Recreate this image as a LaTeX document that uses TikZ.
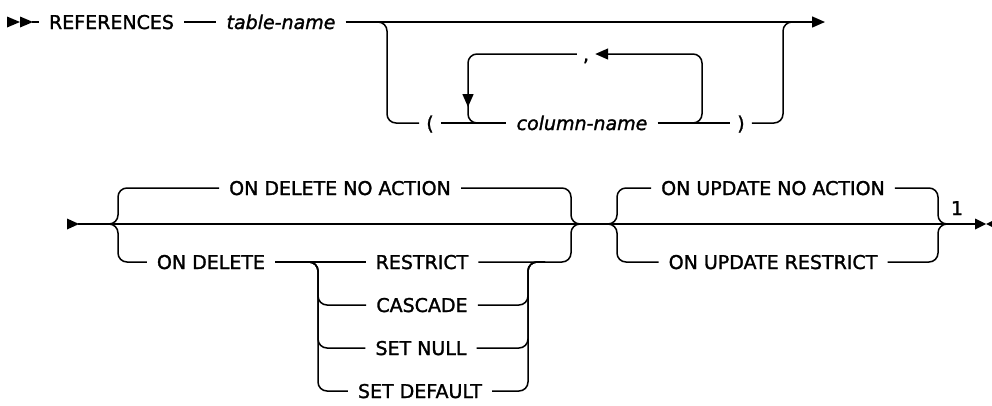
\documentclass[tikz,border=0pt]{standalone}
\usepackage{fontspec}
\setmainfont{DejaVu Sans}
\newfontfamily\railfont{DejaVu Sans}[FakeBold=1.5]
\newfontfamily\railit{DejaVu Sans Oblique}[FakeBold=1.5]
\usetikzlibrary{arrows.meta}
\begin{document}
\begin{tikzpicture}[x=1pt,y=-1pt,
  rail/.style={line width=1.5pt, rounded corners=9pt},
  lbl/.style={inner xsep=10pt, inner ysep=0pt, text height=14pt, text depth=0pt, font=\railfont\fontsize{19pt}{22pt}\selectfont},
  var/.style={lbl, font=\railit\fontsize{19pt}{22pt}\selectfont},
  tip/.style={-{Triangle[length=13pt,width=11pt]}}
]
\useasboundingbox (0,0) rectangle (992,405);

% ---------- row 1 ----------
\node[lbl] (refs) at (111.5,22) {REFERENCES};
\node[var] (tab) at (281,22) {table-name};
\node[lbl, inner xsep=7pt] (lpar) at (430,123) {(};
\node[var] (col) at (582,123) {column-name};
\node[lbl, inner xsep=6pt] (comma) at (586,54) {,};
\node[lbl, inner xsep=7pt] (rpar) at (741,123) {)};

\coordinate (s1) at (32,22);
\fill (7,16.5) -- (20,22) -- (7,27.5) -- cycle;
\fill (20,16.5) -- (33,22) -- (20,27.5) -- cycle;
\draw[rail] (s1) -- (refs.west);
\draw[rail] (refs.east) -- (tab.west);
\coordinate (e1) at (825,22);
\draw[rail,tip] (tab.east) -- (e1);

\coordinate (b1a) at (370,22);
\coordinate (b1b) at (387,22);
\coordinate (b1c) at (387,123);
\draw[rail] (b1a) -- (b1b) -- (b1c) -- (lpar.west);
\draw[rail] (lpar.east) -- (col.west);
\draw[rail] (col.east) -- (rpar.west);
\coordinate (b2a) at (783,123);
\coordinate (b2b) at (783,22);
\coordinate (b2c) at (800,22);
\draw[rail] (rpar.east) -- (b2a) -- (b2b) -- (b2c);

% repetition loop
\coordinate (la) at (670,123);
\coordinate (lb) at (702,123);
\coordinate (lc) at (702,54);
\draw[rail,tip] (la) -- (lb) -- (lc) -- (comma.east);
\coordinate (ld) at (468,54);
\coordinate (le) at (468,107);
\coordinate (le2) at (468,100);
\coordinate (lf) at (468,123);
\coordinate (lg) at (495,123);
\draw[rail,tip] (comma.west) -- (ld) -- (le);
\draw[rail] (le2) -- (lf) -- (lg);

% ---------- row 2 ----------
\node[lbl] (onda) at (340,188) {ON DELETE NO ACTION};
\node[lbl] (ond) at (211,262) {ON DELETE};
\node[lbl] (rst) at (422,262) {RESTRICT};
\node[lbl] (csc) at (422,305) {CASCADE};
\node[lbl] (snl) at (421,348) {SET NULL};
\node[lbl] (sdf) at (420,391) {SET DEFAULT};
\node[lbl] (onua) at (773,188) {ON UPDATE NO ACTION};
\node[lbl] (onur) at (773,262) {ON UPDATE RESTRICT};
\node[lbl, inner xsep=0pt] (note) at (957,208) {1};

\fill (67,218.5) -- (79,224) -- (67,229.5) -- cycle;
\coordinate (m0) at (78,224);
\coordinate (m1) at (975,224);
\draw[rail] (m0) -- (m1);
\fill (975,218.5) -- (986,224) -- (975,229.5) -- cycle;
\fill (997,218.5) -- (986,224) -- (997,229.5) -- cycle;

% first choice
\coordinate (p1) at (100,224);
\coordinate (p2) at (118,224);
\coordinate (p3) at (118,188);
\coordinate (p4) at (118,262);
\draw[rail] (p1) -- (p2) -- (p3) -- (onda.west);
\draw[rail] (p1) -- (p2) -- (p4) -- (ond.west);
\coordinate (q1) at (571,188);
\coordinate (q2) at (571,224);
\coordinate (q3) at (590,224);
\coordinate (q4) at (571,262);
\draw[rail] (onda.east) -- (q1) -- (q2) -- (q3);
\draw[rail] (rst.east) -- (q4) -- (q2) -- (q3);

% ON DELETE sub-choice
\draw[rail] (ond.east) -- (rst.west);
\coordinate (u1) at (300,262);
\coordinate (u2) at (318,262);
\coordinate (u3) at (318,305);
\coordinate (u4) at (318,348);
\coordinate (u5) at (318,391);
\draw[rail] (u1) -- (u2) -- (u3) -- (csc.west);
\draw[rail] (u1) -- (u2) -- (u4) -- (snl.west);
\draw[rail] (u1) -- (u2) -- (u5) -- (sdf.west);
\coordinate (v1) at (545,262);
\coordinate (v2) at (528,262);
\coordinate (v3) at (528,305);
\coordinate (v4) at (528,348);
\coordinate (v5) at (528,391);
\draw[rail] (csc.east) -- (v3) -- (v2) -- (v1);
\draw[rail] (snl.east) -- (v4) -- (v2) -- (v1);
\draw[rail] (sdf.east) -- (v5) -- (v2) -- (v1);

% second choice
\coordinate (w1) at (600,224);
\coordinate (w2) at (617,224);
\coordinate (w3) at (617,188);
\coordinate (w4) at (617,262);
\draw[rail] (w1) -- (w2) -- (w3) -- (onua.west);
\draw[rail] (w1) -- (w2) -- (w4) -- (onur.west);
\coordinate (z1) at (938,188);
\coordinate (z2) at (938,224);
\coordinate (z3) at (955,224);
\coordinate (z4) at (938,262);
\draw[rail] (onua.east) -- (z1) -- (z2) -- (z3);
\draw[rail] (onur.east) -- (z4) -- (z2) -- (z3);
\end{tikzpicture}
\end{document}
